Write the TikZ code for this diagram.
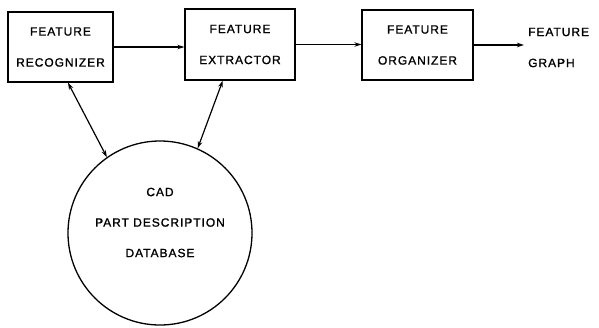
\documentclass[tikz,border=0pt]{standalone}
\usepackage{fontspec}
\setmainfont{Liberation Sans}[LetterSpace=8, FakeBold=1.2]
\usetikzlibrary{arrows.meta,calc}
\begin{document}
\begin{tikzpicture}[x=1pt,y=-1pt,
  lbl/.style={font=\fontsize{12}{31}\selectfont, align=center, inner sep=0pt},
  stepbox/.style={lbl, draw, line width=1.3pt},
  arr/.style={line width=1.2pt, -{Stealth[length=7pt,width=4.5pt]}},
  darr/.style={line width=1.2pt, {Stealth[length=7pt,width=4.5pt]}-{Stealth[length=7pt,width=4.5pt]}}]
\useasboundingbox (0,0) rectangle (599,327);
\node[stepbox, minimum width=105pt, minimum height=70pt] (rec) at (60.5,47) {FEATURE\\RECOGNIZER};
\node[stepbox, minimum width=110pt, minimum height=71pt] (ext) at (240,44.5) {FEATURE\\EXTRACTOR};
\node[stepbox, minimum width=111pt, minimum height=70pt] (org) at (417.5,45) {FEATURE\\ORGANIZER};
\node[lbl, align=left, anchor=west, inner sep=4pt] (fg) at (524,47.5) {FEATURE\\GRAPH};
\node[circle, draw, line width=1.3pt, minimum size=184pt, inner sep=0pt] (db) at (160,233) {};
\node[lbl, font=\fontsize{12}{30.5}\selectfont] (dbt) at (160,222.5) {CAD\\PART DESCRIPTION\\DATABASE};
\draw[arr] (rec.east) -- (rec.east -| ext.west);
\draw[arr] (ext.east) -- (ext.east -| org.west);
\draw[arr] (org.east) -- (org.east -| fg.west);
\coordinate (r1) at ($(rec.south west)!0.57!(rec.south east)$);
\coordinate (e1) at ($(ext.south west)!0.345!(ext.south east)$);
\draw[darr] (db.125) -- (r1);
\draw[darr] (db.66.5) -- (e1);
\end{tikzpicture}
\end{document}
